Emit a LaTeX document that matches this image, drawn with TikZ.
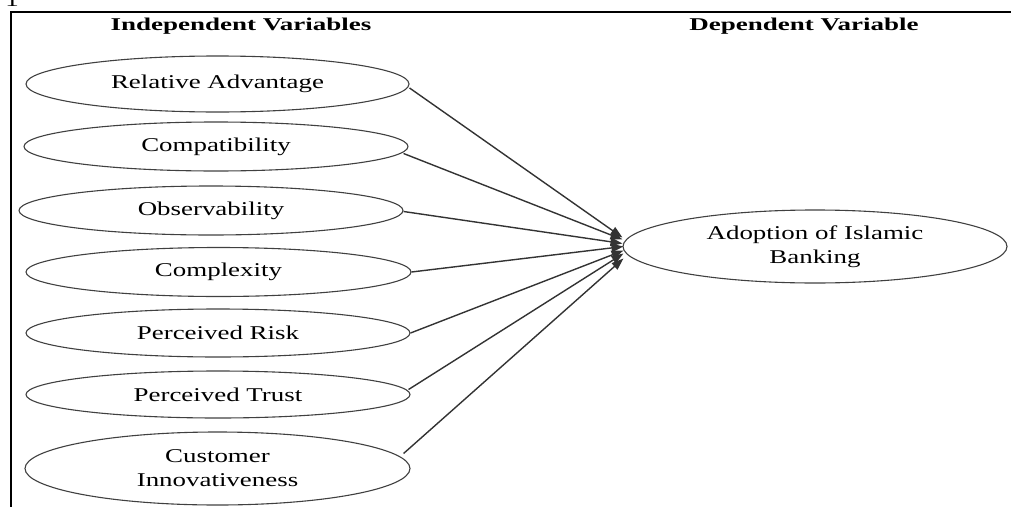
\documentclass[tikz,border=0pt]{standalone}
\usepackage{fontspec}
\setmainfont{Liberation Serif}
\newfontfamily\bodyf[FakeStretch=1.38]{Liberation Serif}
\newfontfamily\headf[FakeStretch=1.5]{Liberation Serif}
\usetikzlibrary{shapes.geometric,arrows.meta}
\begin{document}
\begin{tikzpicture}[x=1pt,y=-1pt,
  var/.style={ellipse,draw=black!75,line width=1.1pt,inner sep=0pt,align=center,
    font=\bodyf\fontsize{19.5}{24}\selectfont},
  head/.style={font=\headf\bfseries\fontsize{18}{22}\selectfont,anchor=base,inner sep=0pt},
  link/.style={draw=black!80,line width=1.4pt,-{Triangle[length=12pt,width=8.5pt]}}]
\useasboundingbox (0,0) rectangle (1011,506);
\draw[line width=2pt] (11,507) -- (11,12) -- (1012,12);
\node[font=\bodyf\fontsize{19.5}{24}\selectfont,anchor=base,inner sep=0pt] (pg) at (12,6) {1};
\node[head] (hi) at (241,30) {Independent Variables};
\node[head] (hd) at (804,30) {Dependent Variable};

\node[var,minimum width=383pt,minimum height=56pt] (ra) at (217.5,84) {Relative Advantage};
\node[var,minimum width=384pt,minimum height=49pt] (comp) at (216,146.5) {Compatibility};
\node[var,minimum width=384pt,minimum height=49pt] (obs) at (211,210.5) {Observability};
\node[var,minimum width=385pt,minimum height=49pt] (cpx) at (218.5,272) {Complexity};
\node[var,minimum width=384pt,minimum height=48pt] (risk) at (218,333) {Perceived Risk};
\node[var,minimum width=384pt,minimum height=47pt] (trust) at (218,394.5) {Perceived Trust};
\node[var,minimum width=385pt,minimum height=73pt] (cust) at (217.5,468.5) {Customer\\Innovativeness};
\node[var,minimum width=384pt,minimum height=73pt] (ado) at (815,246.5) {Adoption of Islamic\\Banking};

\draw[link] ([yshift=-4pt]ra.east) -- ([yshift=9pt]ado.west);
\draw[link] ([xshift=-5pt,yshift=-7pt]comp.east) -- ([yshift=7pt]ado.west);
\draw[link] ([yshift=-1pt]obs.east) -- ([yshift=3pt]ado.west);
\draw[link] (cpx.east) -- ([xshift=1pt,yshift=0pt]ado.west);
\draw[link] (risk.east) -- ([xshift=1pt,yshift=-4pt]ado.west);
\draw[link] ([xshift=-2pt,yshift=5pt]trust.east) -- ([xshift=1pt,yshift=-7pt]ado.west);
\draw[link] ([xshift=-7pt,yshift=15pt]cust.east) -- ([xshift=1pt,yshift=-12pt]ado.west);
\end{tikzpicture}
\end{document}
